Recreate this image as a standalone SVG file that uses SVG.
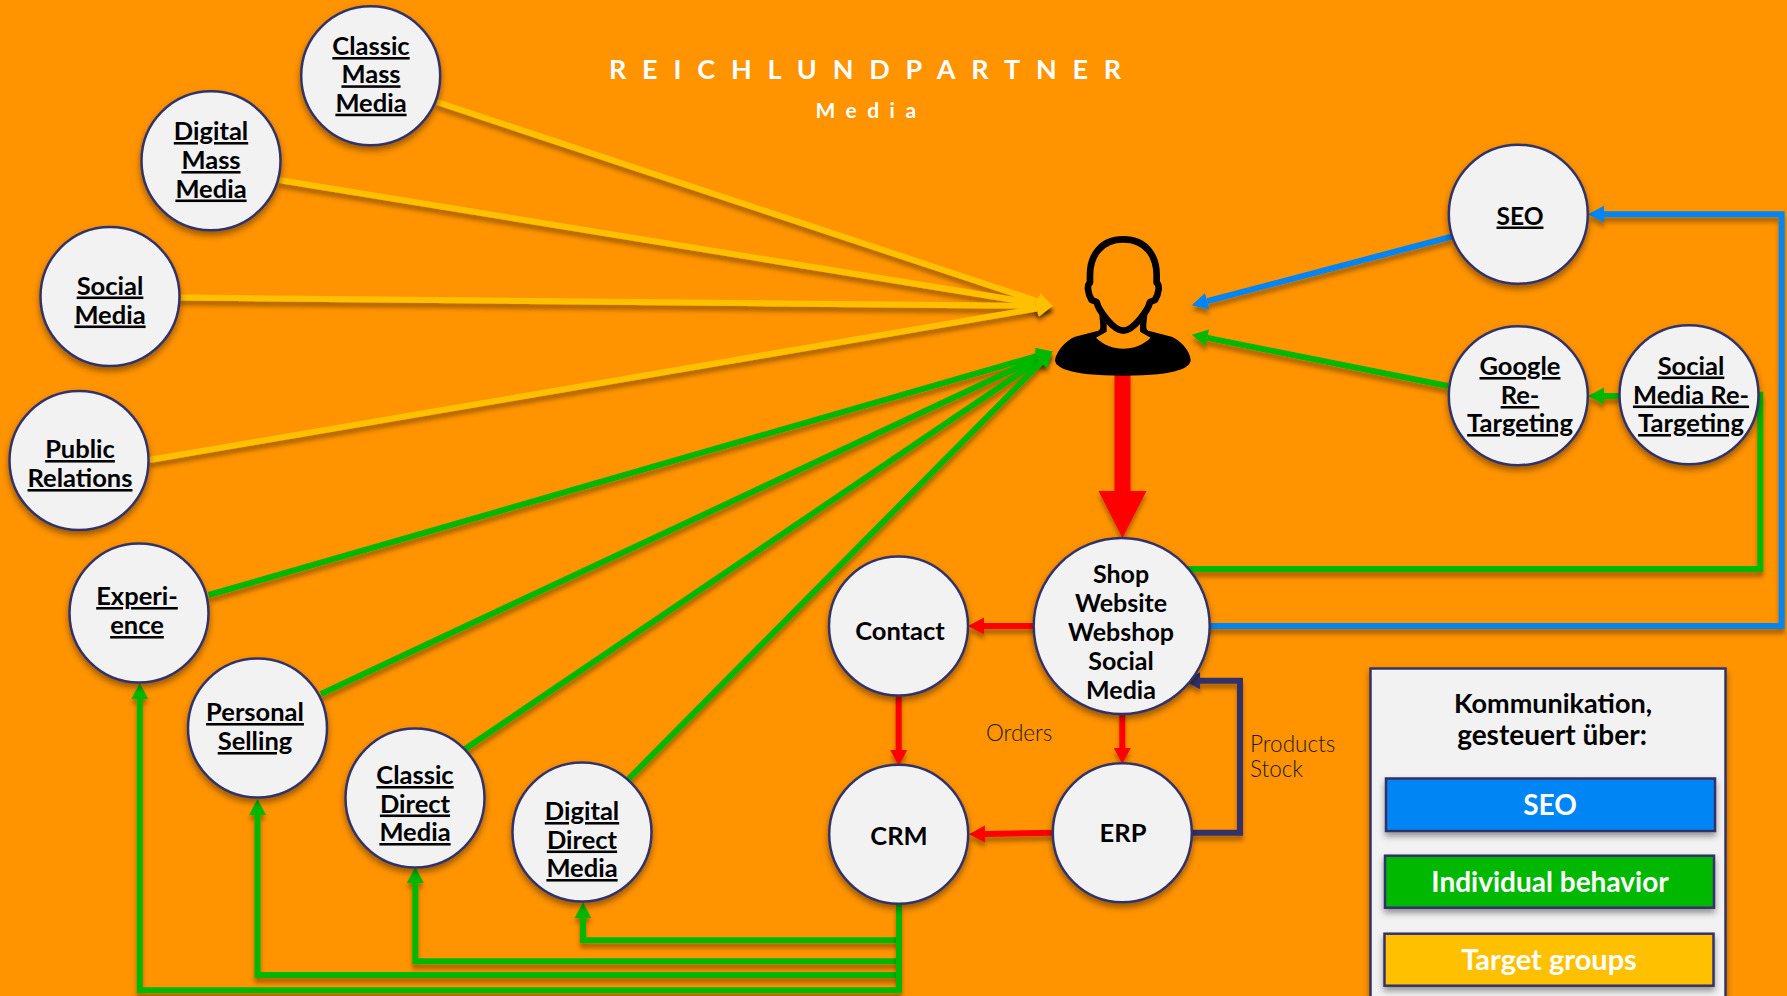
<svg xmlns="http://www.w3.org/2000/svg" width="1787" height="996" viewBox="0 0 1787 996">
<style>
.n{fill:#f2f2f2;stroke:#33336b;stroke-width:2.5;filter:url(#sh)}
text{font-family:"Lato","Liberation Sans",sans-serif}
.t{font-size:25.5px;font-weight:700;text-anchor:middle;fill:#000}
.u{text-decoration:underline}
.w{fill:#fff;font-weight:700;text-anchor:middle}
.l{font-size:22.5px;font-weight:300;fill:#1a1a1a}
.c{fill:none;stroke-width:6;filter:url(#sl);stroke-linejoin:miter}
.y{stroke:#ffc000}.g{stroke:#00b800}.b{stroke:#0085f5}.r{stroke:#ff0000}.v{stroke:#33336b}
.lg{stroke:#33336b;stroke-width:2.5;filter:url(#sh)}
</style>
<defs>
<filter id="sh" filterUnits="userSpaceOnUse" x="0" y="0" width="1787" height="1010"><feDropShadow dx="0" dy="4" stdDeviation="3" flood-color="#000" flood-opacity=".4"/></filter>
<filter id="sl" filterUnits="userSpaceOnUse" x="0" y="0" width="1787" height="1010"><feDropShadow dx="0" dy="5" stdDeviation="2" flood-color="#000" flood-opacity=".32"/></filter>
<marker id="my" markerUnits="userSpaceOnUse" markerWidth="18" markerHeight="20" refX="0" refY="10" orient="auto"><path d="M0,1.5L16,10L0,18.5z" fill="#ffc000"/></marker>
<marker id="mg" markerUnits="userSpaceOnUse" markerWidth="18" markerHeight="20" refX="0" refY="10" orient="auto"><path d="M0,1.5L16,10L0,18.5z" fill="#00b800"/></marker>
<marker id="mb" markerUnits="userSpaceOnUse" markerWidth="18" markerHeight="20" refX="0" refY="10" orient="auto"><path d="M0,1.5L16,10L0,18.5z" fill="#0085f5"/></marker>
<marker id="mr" markerUnits="userSpaceOnUse" markerWidth="18" markerHeight="20" refX="0" refY="10" orient="auto"><path d="M0,1.5L16,10L0,18.5z" fill="#ff0000"/></marker>
<marker id="mv" markerUnits="userSpaceOnUse" markerWidth="18" markerHeight="20" refX="0" refY="10" orient="auto"><path d="M0,1.5L16,10L0,18.5z" fill="#33336b"/></marker>
</defs>
<rect width="1787" height="996" fill="#ff9300"/>
<g id="title">
<text class="w" x="873" y="79" font-size="27" letter-spacing="15.8">REICHLUNDPARTNER</text>
<text class="w" x="871" y="118" font-size="21" letter-spacing="10.5">Media</text>
</g>
<g id="connectors">
<path class="c y" marker-end="url(#my)" d="M437,102L1037.8,301.3"/>
<path class="c y" marker-end="url(#my)" d="M279,180L1037.2,303.6"/>
<path class="c y" marker-end="url(#my)" d="M180,297.5L1037,305.9"/>
<path class="c y" marker-end="url(#my)" d="M149,460L1037.2,308.5"/>
<path class="c g" marker-end="url(#mg)" d="M208.6,595L1037.3,355.9"/>
<path class="c g" marker-end="url(#mg)" d="M321,694L1038.1,358"/>
<path class="c g" marker-end="url(#mg)" d="M465,749L1039.3,360.1"/>
<path class="c g" marker-end="url(#mg)" d="M628,779.5L1041.1,362.4"/>
<path class="c b" marker-end="url(#mb)" d="M1451.7,236.7L1207.2,301.2"/>
<path class="c g" marker-end="url(#mg)" d="M1448,386L1207.4,337.9"/>
<path class="c g" marker-end="url(#mg)" d="M1625,396L1604,396"/>
<path class="c b" marker-end="url(#mb)" d="M1205,626H1781.7V214.3H1604"/>
<path class="c g" d="M1180,569H1760.3V394.7H1755"/>
<path class="c g" marker-end="url(#mg)" d="M899,940.3H583V918.3"/>
<path class="c g" marker-end="url(#mg)" d="M899,961.3H415.3V883"/>
<path class="c g" marker-end="url(#mg)" d="M899,975H257.5V815"/>
<path class="c g" marker-end="url(#mg)" d="M899,904V990.3H139.8V699"/>
<path class="c r" marker-end="url(#mr)" d="M1040,626H984"/>
<path class="c r" marker-end="url(#mr)" d="M898.7,690V750"/>
<path class="c r" marker-end="url(#mr)" d="M1122.3,710V748"/>
<path class="c r" marker-end="url(#mr)" d="M1056,832.7L985,834"/>
<path class="c v" marker-end="url(#mv)" d="M1188,832.7H1240V680.7H1200"/>
<path d="M1114.5,375H1130.5V491H1146.5L1122.5,538L1098.5,491H1114.5z" fill="#ff0000" filter="url(#sl)"/>
</g>
<g id="person" transform="translate(960 200) scale(.3333)">
<path d="M490,118C560,118 590,170 590,225L590,248C600,255 597,280 585,300L570,306C565,330 520,392 490,392C460,392 415,330 410,306L395,300C383,280 380,255 390,248L390,225C390,170 420,118 490,118Z" fill="none" stroke="#000" stroke-width="20" stroke-linejoin="round"/>
<path d="M285,480C290,450 320,420 345,410L415,392C425,388 420,370 418,345L440,372L440,395L408,413C430,435 460,446 490,446C520,446 550,435 572,413L540,395L540,372L562,345C560,370 555,388 565,392L635,410C660,420 690,450 692,480C692,500 660,527 490,527C320,527 285,500 285,480Z" fill="#000"/>
</g>
<g id="classic-mass-media"><circle class="n" cx="370.7" cy="75.7" r="69.5"/><text class="t u" x="371" y="55">Classic</text><text class="t u" x="371" y="83.3">Mass</text><text class="t u" x="371" y="111.7">Media</text></g>
<g id="digital-mass-media"><circle class="n" cx="211" cy="160.7" r="69.5"/><text class="t u" x="211" y="140">Digital</text><text class="t u" x="211" y="169">Mass</text><text class="t u" x="211" y="197.5">Media</text></g>
<g id="social-media"><circle class="n" cx="110" cy="296.5" r="69.5"/><text class="t u" x="110" y="294.5">Social</text><text class="t u" x="110" y="323.5">Media</text></g>
<g id="public-relations"><circle class="n" cx="79" cy="460.5" r="69.5"/><text class="t u" x="80" y="458">Public</text><text class="t u" x="80" y="487">Relations</text></g>
<g id="experience"><circle class="n" cx="139" cy="613" r="69.5"/><text class="t u" x="137" y="605">Experi-</text><text class="t u" x="137" y="634">ence</text></g>
<g id="personal-selling"><circle class="n" cx="257.5" cy="728" r="69.5"/><text class="t u" x="255" y="721">Personal</text><text class="t u" x="255" y="750">Selling</text></g>
<g id="classic-direct-media"><circle class="n" cx="415" cy="798" r="69.5"/><text class="t u" x="415" y="784">Classic</text><text class="t u" x="415" y="812.5">Direct</text><text class="t u" x="415" y="841">Media</text></g>
<g id="digital-direct-media"><circle class="n" cx="582" cy="832" r="69.5"/><text class="t u" x="582" y="820">Digital</text><text class="t u" x="582" y="848.5">Direct</text><text class="t u" x="582" y="877">Media</text></g>
<g id="contact"><circle class="n" cx="898.5" cy="626" r="69.5"/><text class="t" x="900" y="639.5">Contact</text></g>
<g id="crm"><circle class="n" cx="898.7" cy="834.3" r="69.5"/><text class="t" x="899" y="844.5">CRM</text></g>
<g id="erp"><circle class="n" cx="1122.3" cy="832.7" r="69.5"/><text class="t" x="1123" y="842">ERP</text></g>
<g id="shop"><circle class="n" cx="1121.7" cy="626" r="88"/><text class="t" font-size="25" style="font-size:25px" x="1121" y="583">Shop</text><text class="t" style="font-size:25px" x="1121" y="612">Website</text><text class="t" style="font-size:25px" x="1121" y="641">Webshop</text><text class="t" style="font-size:25px" x="1121" y="669.5">Social</text><text class="t" style="font-size:25px" x="1121" y="698.5">Media</text></g>
<g id="seo"><circle class="n" cx="1518.3" cy="214.3" r="69.5"/><text class="t u" style="font-size:24.5px" x="1520" y="224.5">SEO</text></g>
<g id="google-retargeting"><circle class="n" cx="1518.3" cy="395.7" r="69.5"/><text class="t u" x="1520" y="375">Google</text><text class="t u" x="1520" y="404">Re-</text><text class="t u" x="1520" y="432">Targeting</text></g>
<g id="social-media-retargeting"><circle class="n" cx="1689" cy="394.7" r="69.5"/><text class="t u" x="1691" y="374.5">Social</text><text class="t u" x="1691" y="403.5">Media Re-</text><text class="t u" x="1691" y="432">Targeting</text></g>
<g id="labels">
<text class="l" x="986" y="741">Orders</text>
<text class="l" x="1250" y="751.5">Products</text>
<text class="l" x="1250" y="777">Stock</text>
</g>
<g id="legend">
<rect class="lg" x="1370.5" y="668.5" width="355" height="340" fill="#f2f2f2"/>
<text class="t" style="font-size:27px" x="1553" y="712.7">Kommunikation,</text>
<text class="t" style="font-size:28px" x="1552" y="745">gesteuert über:</text>
<rect class="lg" x="1386" y="778.5" width="329" height="52.5" fill="#0085f5"/>
<text class="w" x="1550" y="815" font-size="28">SEO</text>
<rect class="lg" x="1385" y="855.7" width="329" height="52" fill="#00b800"/>
<text class="w" x="1550" y="892" font-size="28">Individual behavior</text>
<rect class="lg" x="1384.5" y="933.7" width="329" height="52" fill="#ffc000"/>
<text class="w" x="1549" y="970" font-size="29">Target groups</text>
</g>
</svg>
